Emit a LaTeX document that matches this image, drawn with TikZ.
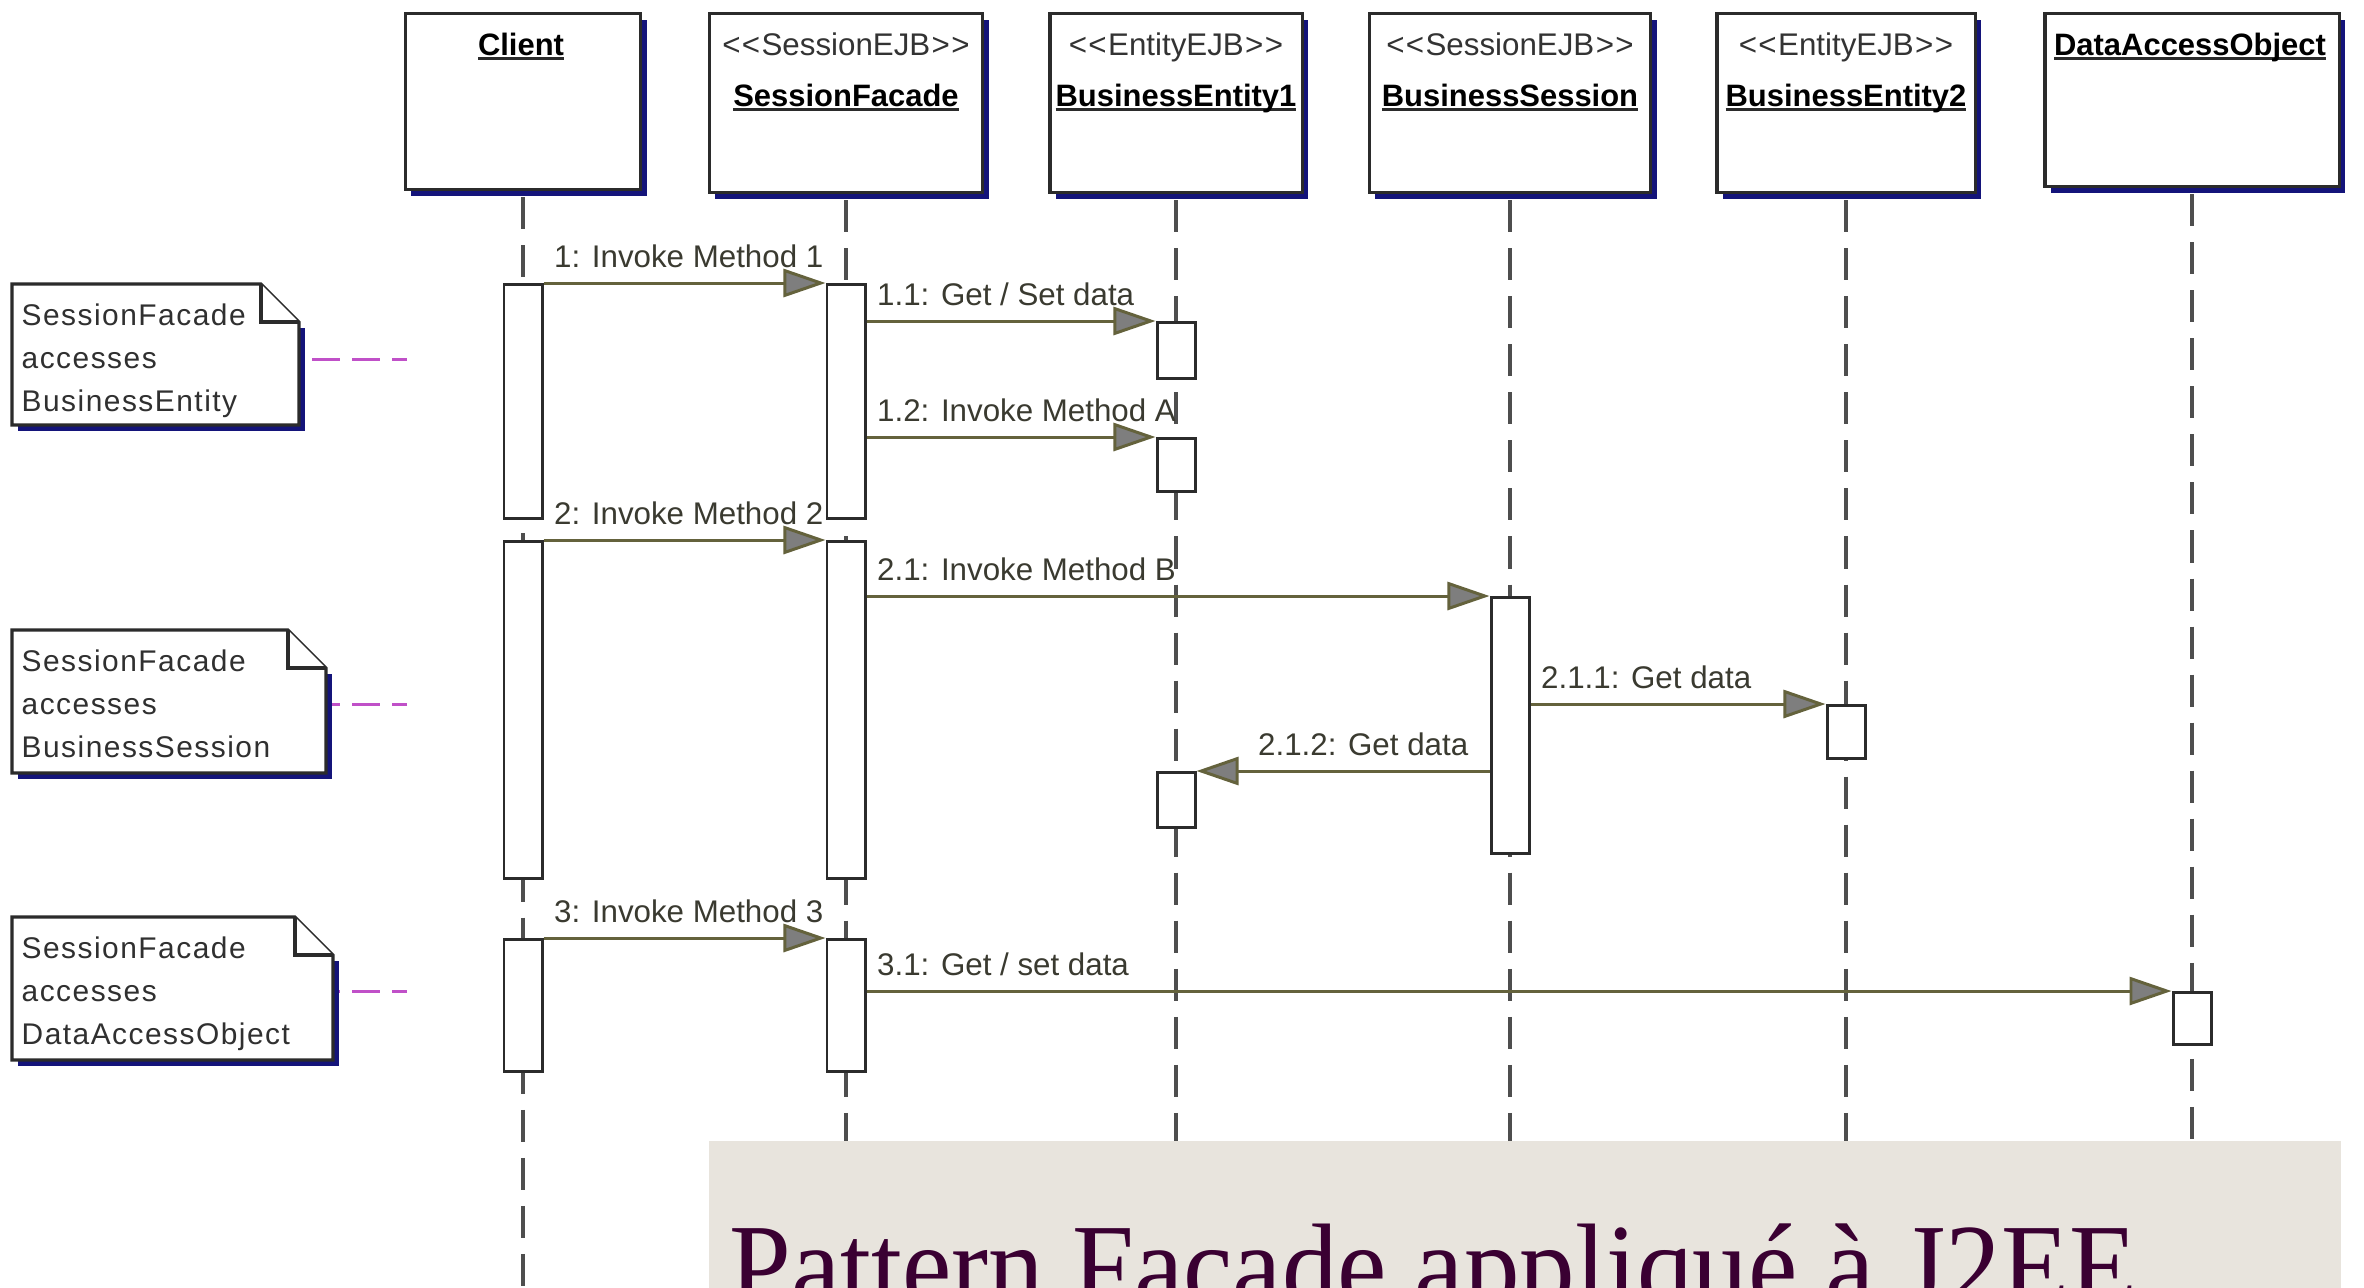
\documentclass[tikz,border=0pt]{standalone}
\usepackage{fontspec}
\setmainfont{Liberation Sans}
\newfontfamily\titlefont{Liberation Serif}
\newfontfamily\notefont{Liberation Sans}[LetterSpace=5]
\newfontfamily\stereofont{Liberation Sans}[Ligatures=ResetAll]
\usetikzlibrary{arrows.meta,shadows}

\definecolor{boxline}{HTML}{2B2B2B}
\definecolor{shadownavy}{HTML}{14147A}
\definecolor{lifegray}{HTML}{4E4E4E}
\definecolor{msgolive}{HTML}{64623C}
\definecolor{tipgray}{HTML}{7E7E7E}
\definecolor{labelink}{HTML}{3A3A30}
\definecolor{noteink}{HTML}{303030}
\definecolor{linkmagenta}{HTML}{C050C8}
\definecolor{slidebeige}{HTML}{E8E4DD}
\definecolor{titleplum}{HTML}{3A0032}

% underlined object name with a heavier rule
\newcommand\uname[1]{\setbox0\hbox{#1}\rlap{\color{boxline}\rule[-1.5pt]{\wd0}{0.8pt}}\box0}
% stereotype in guillemet-free angle brackets
\newcommand\stereotype[1]{<\kern0.4pt<\kern0.4pt#1\kern0.4pt>\kern0.4pt>}

% UML note with folded corner: #1 name, #2 left, #3 top, #4 right, #5 bottom
\newcommand\drawnote[5]{%
  \fill[shadownavy] (#2+6,#3+44) rectangle (#4+6,#5+6);
  \filldraw[notebody] (#2,#3) -- (#4-38,#3) -- (#4,#3+38) -- (#4,#5) -- (#2,#5) -- cycle;
  \draw[notebody] (#4-38,#3) -- (#4-38,#3+38) -- (#4,#3+38);
  \coordinate (#1) at (#4+6,0);
}

\begin{document}
\begin{tikzpicture}[x=0.01cm, y=-0.01cm,
  objbox/.style={draw=boxline, line width=0.9pt, fill=white, inner sep=0pt, anchor=north,
    drop shadow={shadow xshift=0.06cm, shadow yshift=-0.06cm, fill=shadownavy, opacity=1}},
  stereo/.style={anchor=base, inner sep=0pt, text=black!80, font=\stereofont\fontsize{8.9}{10}\selectfont},
  objname/.style={anchor=base, inner sep=0pt, text=black, font=\bfseries\fontsize{8.8}{10}\selectfont},
  lifeline/.style={draw=lifegray, line width=0.9pt, dash pattern=on 0.32cm off 0.16cm},
  actbar/.style={draw=boxline, line width=0.85pt, fill=white, anchor=north, minimum width=0.38cm, inner sep=0pt},
  msg/.style={draw=msgolive, line width=0.85pt, -{Triangle[length=0.42cm, width=0.28cm, fill=tipgray]}},
  msglabel/.style={anchor=base west, inner sep=0pt, text=labelink, font=\fontsize{8.9}{10}\selectfont},
  notebody/.style={draw=boxline, line width=0.9pt, fill=white},
  notetext/.style={anchor=north west, inner sep=0pt, align=left, text=noteink, font=\notefont\fontsize{8.5}{12.2}\selectfont},
  notelink/.style={draw=linkmagenta, line width=0.85pt, dash pattern=on 0.15cm off 0.12cm on 0.28cm off 0.12cm on 0.28cm off 0.12cm}
]
\useasboundingbox (0,0) rectangle (2364,1287);
\clip (0,0) rectangle (2364,1287);
\fill[white] (0,0) rectangle (2364,1287);
\coordinate (bottomref) at (0,1287);

% object boxes
\node[objbox, minimum width=2.35cm, minimum height=1.76cm] (client) at (523,12) {};
\node[objbox, minimum width=2.73cm, minimum height=1.79cm] (facade) at (846,12) {};
\node[objbox, minimum width=2.52cm, minimum height=1.79cm] (entity1) at (1176,12) {};
\node[objbox, minimum width=2.81cm, minimum height=1.79cm] (bsession) at (1510,12) {};
\node[objbox, minimum width=2.58cm, minimum height=1.79cm] (entity2) at (1846,12) {};
\node[objbox, minimum width=2.94cm, minimum height=1.73cm] (dao) at (2192,12) {};

\node[objname] (client-name) at (521,55) {\uname{Client}};
\node[stereo] (facade-st) at (846,55) {\stereotype{SessionEJB}};
\node[objname] (facade-name) at (846,106) {\uname{SessionFacade}};
\node[stereo] (entity1-st) at (1176,55) {\stereotype{EntityEJB}};
\node[objname] (entity1-name) at (1176,106) {\uname{BusinessEntity1}};
\node[stereo] (bsession-st) at (1510,55) {\stereotype{SessionEJB}};
\node[objname] (bsession-name) at (1510,106) {\uname{BusinessSession}};
\node[stereo] (entity2-st) at (1846,55) {\stereotype{EntityEJB}};
\node[objname] (entity2-name) at (1846,106) {\uname{BusinessEntity2}};
\node[objname] (dao-name) at (2190,55) {\uname{DataAccessObject}};

% lifelines
\foreach \o in {client,facade,entity1,bsession,entity2,dao}
  \draw[lifeline] ([yshift=-0.06cm]\o.south) -- (\o.south |- bottomref);

% activation bars
\node[actbar, minimum height=2.34cm] (c1) at (523,283) {};
\node[actbar, minimum height=3.37cm] (c2) at (523,540) {};
\node[actbar, minimum height=1.32cm] (c3) at (523,938) {};
\node[actbar, minimum height=2.34cm] (f1) at (846,283) {};
\node[actbar, minimum height=3.37cm] (f2) at (846,540) {};
\node[actbar, minimum height=1.32cm] (f3) at (846,938) {};
\node[actbar, minimum height=0.56cm] (e1a) at (1176,321) {};
\node[actbar, minimum height=0.53cm] (e1b) at (1176,437) {};
\node[actbar, minimum height=0.55cm] (e1c) at (1176,771) {};
\node[actbar, minimum height=2.56cm] (bs1) at (1510,596) {};
\node[actbar, minimum height=0.53cm] (e2a) at (1846,704) {};
\node[actbar, minimum height=0.52cm] (dao1) at (2192,991) {};

% messages
\draw[msg] (c1.north east) -- (f1.north west);
\path (c1.north east) ++(10,-16) node[msglabel] (m1) {1: Invoke Method 1};
\draw[msg] (f1.east |- e1a.north west) -- (e1a.north west);
\path (f1.east |- e1a.north west) ++(10,-16) node[msglabel] (m11) {1.1: Get / Set data};
\draw[msg] (f1.east |- e1b.north west) -- (e1b.north west);
\path (f1.east |- e1b.north west) ++(10,-16) node[msglabel] (m12) {1.2: Invoke Method A};
\draw[msg] (c2.north east) -- (f2.north west);
\path (c2.north east) ++(10,-16) node[msglabel] (m2) {2: Invoke Method 2};
\draw[msg] (f2.east |- bs1.north west) -- (bs1.north west);
\path (f2.east |- bs1.north west) ++(10,-16) node[msglabel] (m21) {2.1: Invoke Method B};
\draw[msg] (bs1.east |- e2a.north west) -- (e2a.north west);
\path (bs1.east |- e2a.north west) ++(10,-16) node[msglabel] (m211) {2.1.1: Get data};
\draw[msg] (bs1.west |- e1c.north east) -- (e1c.north east);
\path (e1c.north east) ++(61,-16) node[msglabel] (m212) {2.1.2: Get data};
\draw[msg] (c3.north east) -- (f3.north west);
\path (c3.north east) ++(10,-16) node[msglabel] (m3) {3: Invoke Method 3};
\draw[msg] (f3.east |- dao1.north west) -- (dao1.north west);
\path (f3.east |- dao1.north west) ++(10,-16) node[msglabel] (m31) {3.1: Get / set data};

% notes
\drawnote{note1}{12}{284}{299}{425}
\node[notetext] (note1-text) at (21,303) {SessionFacade\\accesses\\BusinessEntity};
\coordinate (link1) at (407,359);
\draw[notelink] (link1) -- (note1 |- link1);

\drawnote{note2}{12}{630}{326}{773}
\node[notetext] (note2-text) at (21,649) {SessionFacade\\accesses\\BusinessSession};
\coordinate (link2) at (407,704);
\draw[notelink] (link2) -- (note2 |- link2);

\drawnote{note3}{12}{917}{333}{1060}
\node[notetext] (note3-text) at (21,936) {SessionFacade\\accesses\\DataAccessObject};
\coordinate (link3) at (407,991);
\draw[notelink] (link3) -- (note3 |- link3);

% slide title band, its text runs past the lower edge
\fill[slidebeige] (709,1141) rectangle (2341,1300);
\node[anchor=base west, inner sep=0pt, text=titleplum, font=\titlefont\fontsize{31.6}{36}\selectfont]
  (title) at (729,1306) {\scalebox{1}[1.07]{Pattern Facade appliqué à J2EE}};
\end{tikzpicture}
\end{document}
